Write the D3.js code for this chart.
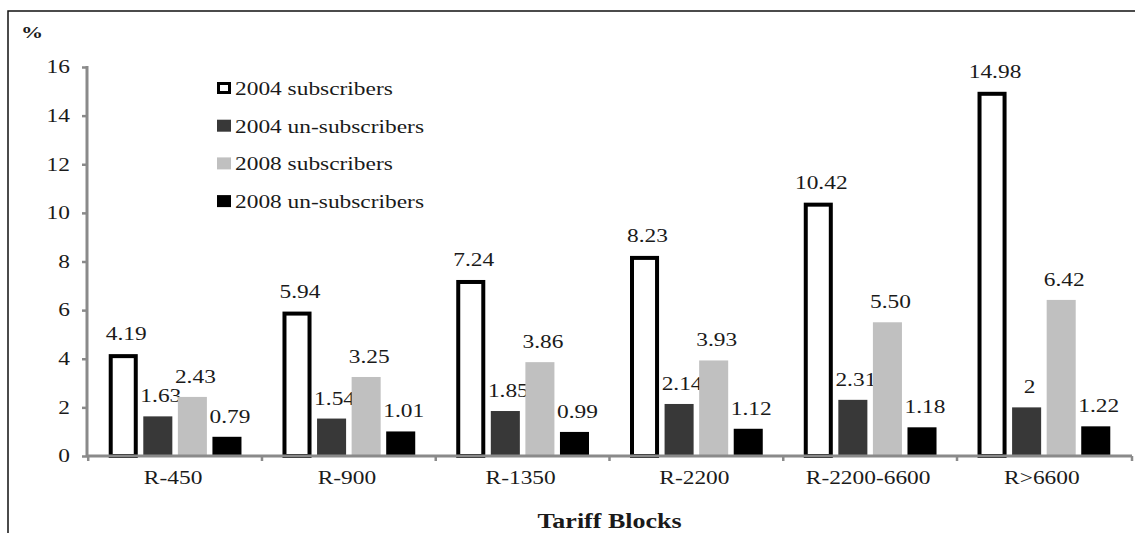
<!DOCTYPE html>
<html>
<head>
<meta charset="utf-8">
<script src="https://cdn.jsdelivr.net/npm/d3@7/dist/d3.min.js"></script>
<style>
  html, body { margin: 0; padding: 0; background: #fff; }
  svg { display: block; }
  text { font-family: "Liberation Serif", "Times New Roman", serif; fill: #1a1a1a; }
</style>
</head>
<body>
<svg id="chart" width="1135" height="533"></svg>
<script>
// Tariff blocks and the share (%) in each block
const categories = ["R-450", "R-900", "R-1350", "R-2200", "R-2200-6600", "R>6600"];
const subscribers2004 = [4.19, 5.94, 7.24, 8.23, 10.42, 14.98];
const unsubscribers2004 = [1.63, 1.54, 1.85, 2.14, 2.31, 2];
const subscribers2008 = [2.43, 3.25, 3.86, 3.93, 5.50, 6.42];
const unsubscribers2008 = [0.79, 1.01, 0.99, 1.12, 1.18, 1.22];
const seriesNames = ["2004 subscribers", "2004 un-subscribers", "2008 subscribers", "2008 un-subscribers"];
const yTicks = [0, 2, 4, 6, 8, 10, 12, 14, 16];

const seriesValues = [subscribers2004, unsubscribers2004, subscribers2008, unsubscribers2008];
const fills = ["#ffffff", "#383838", "#c0c0c0", "#000000"];
const STRETCH = 1.3; // glyphs are drawn horizontally widened

const svg = d3.select("#chart");
const plotLeft = 87, plotRight = 1132, plotTop = 67, plotBottom = 456;

// outer frame (open to the right and bottom edge)
svg.append("path")
  .attr("d", "M8,533 L8,11 L1135,11")
  .attr("fill", "none").attr("stroke", "#111").attr("stroke-width", 1.5);

const x0 = d3.scaleBand().domain(categories).range([plotLeft, plotRight]).paddingInner(0.236).paddingOuter(0.125);
const x1 = d3.scaleBand().domain(d3.range(4)).range([0, x0.bandwidth()]).paddingInner(0.16).paddingOuter(0);
const y = d3.scaleLinear().domain([0, 16]).range([plotBottom, plotTop]);

const fmt = v => Number.isInteger(v) ? String(v) : v.toFixed(2);

function stretchedText(g, x, yy, str) {
  return g.append("text")
    .attr("transform", `translate(${x},${yy}) scale(${STRETCH},1)`)
    .text(str);
}

// bars
const groups = svg.append("g").selectAll("g")
  .data(categories)
  .join("g")
  .attr("transform", d => `translate(${x0(d)},0)`);

groups.each(function(cat, ci) {
  const g = d3.select(this);
  seriesValues.forEach((vals, si) => {
    const v = vals[ci];
    const bx = x1(si), bw = x1.bandwidth();
    if (si === 0) {
      g.append("rect")
        .attr("x", bx + 2).attr("width", bw - 4)
        .attr("y", y(v) + 2).attr("height", y(0) - y(v) - 2)
        .attr("fill", "#fff").attr("stroke", "#000").attr("stroke-width", 4);
    } else {
      g.append("rect")
        .attr("x", bx).attr("width", bw)
        .attr("y", y(v)).attr("height", y(0) - y(v))
        .attr("fill", fills[si]);
    }
    stretchedText(g, bx + bw / 2 + 3, y(v) - 14, fmt(v))
      .attr("text-anchor", "middle")
      .style("font-size", "18px");
  });
});

// y axis
const yAxis = svg.append("g")
  .attr("transform", `translate(${plotLeft},0)`)
  .call(d3.axisLeft(y).tickValues(yTicks).tickSize(5).tickFormat(""));
yAxis.select(".domain").attr("stroke", "#8a8a8a").attr("stroke-width", 3)
  .attr("d", `M0,${plotTop - 1}V${plotBottom}`);
yAxis.selectAll(".tick line").attr("stroke", "#8a8a8a").attr("stroke-width", 2.5);
yTicks.forEach(t => {
  stretchedText(svg, 70, y(t), String(t))
    .attr("text-anchor", "end")
    .attr("dy", "0.35em")
    .style("font-size", "18px");
});

// x axis with ticks at the block boundaries
const xAxisG = svg.append("g").attr("transform", `translate(0,${plotBottom})`);
xAxisG.append("line")
  .attr("x1", plotLeft).attr("x2", plotRight)
  .attr("stroke", "#8a8a8a").attr("stroke-width", 3);
const bounds = categories.map(c => x0(c) - x0.step() * x0.paddingInner() / 2).concat([plotRight]);
xAxisG.selectAll("line.tk").data(bounds).join("line")
  .attr("class", "tk")
  .attr("x1", d => d).attr("x2", d => d)
  .attr("y1", 0).attr("y2", 5)
  .attr("stroke", "#8a8a8a").attr("stroke-width", 2.5);
categories.forEach(c => {
  stretchedText(svg, x0(c) + x0.bandwidth() / 2 - 2, 484, c)
    .attr("text-anchor", "middle")
    .style("font-size", "18px");
});

// axis titles
stretchedText(svg, 21, 38, "%")
  .style("font-size", "17px").style("font-weight", "bold");
stretchedText(svg, (plotLeft + plotRight) / 2, 528, "Tariff Blocks")
  .attr("text-anchor", "middle")
  .style("font-size", "20px").style("font-weight", "bold");

// legend
const legend = svg.append("g");
seriesNames.forEach((name, i) => {
  const cy = 88 + i * 37.7;
  if (i === 0) {
    legend.append("rect")
      .attr("x", 218.5).attr("y", cy - 4.5).attr("width", 11).attr("height", 9)
      .attr("fill", "#fff").attr("stroke", "#000").attr("stroke-width", 3);
  } else {
    legend.append("rect")
      .attr("x", 217).attr("y", cy - 6).attr("width", 14).attr("height", 12)
      .attr("fill", fills[i]);
  }
  stretchedText(legend, 235, cy + 7, name).style("font-size", "18px");
});
</script>
</body>
</html>
